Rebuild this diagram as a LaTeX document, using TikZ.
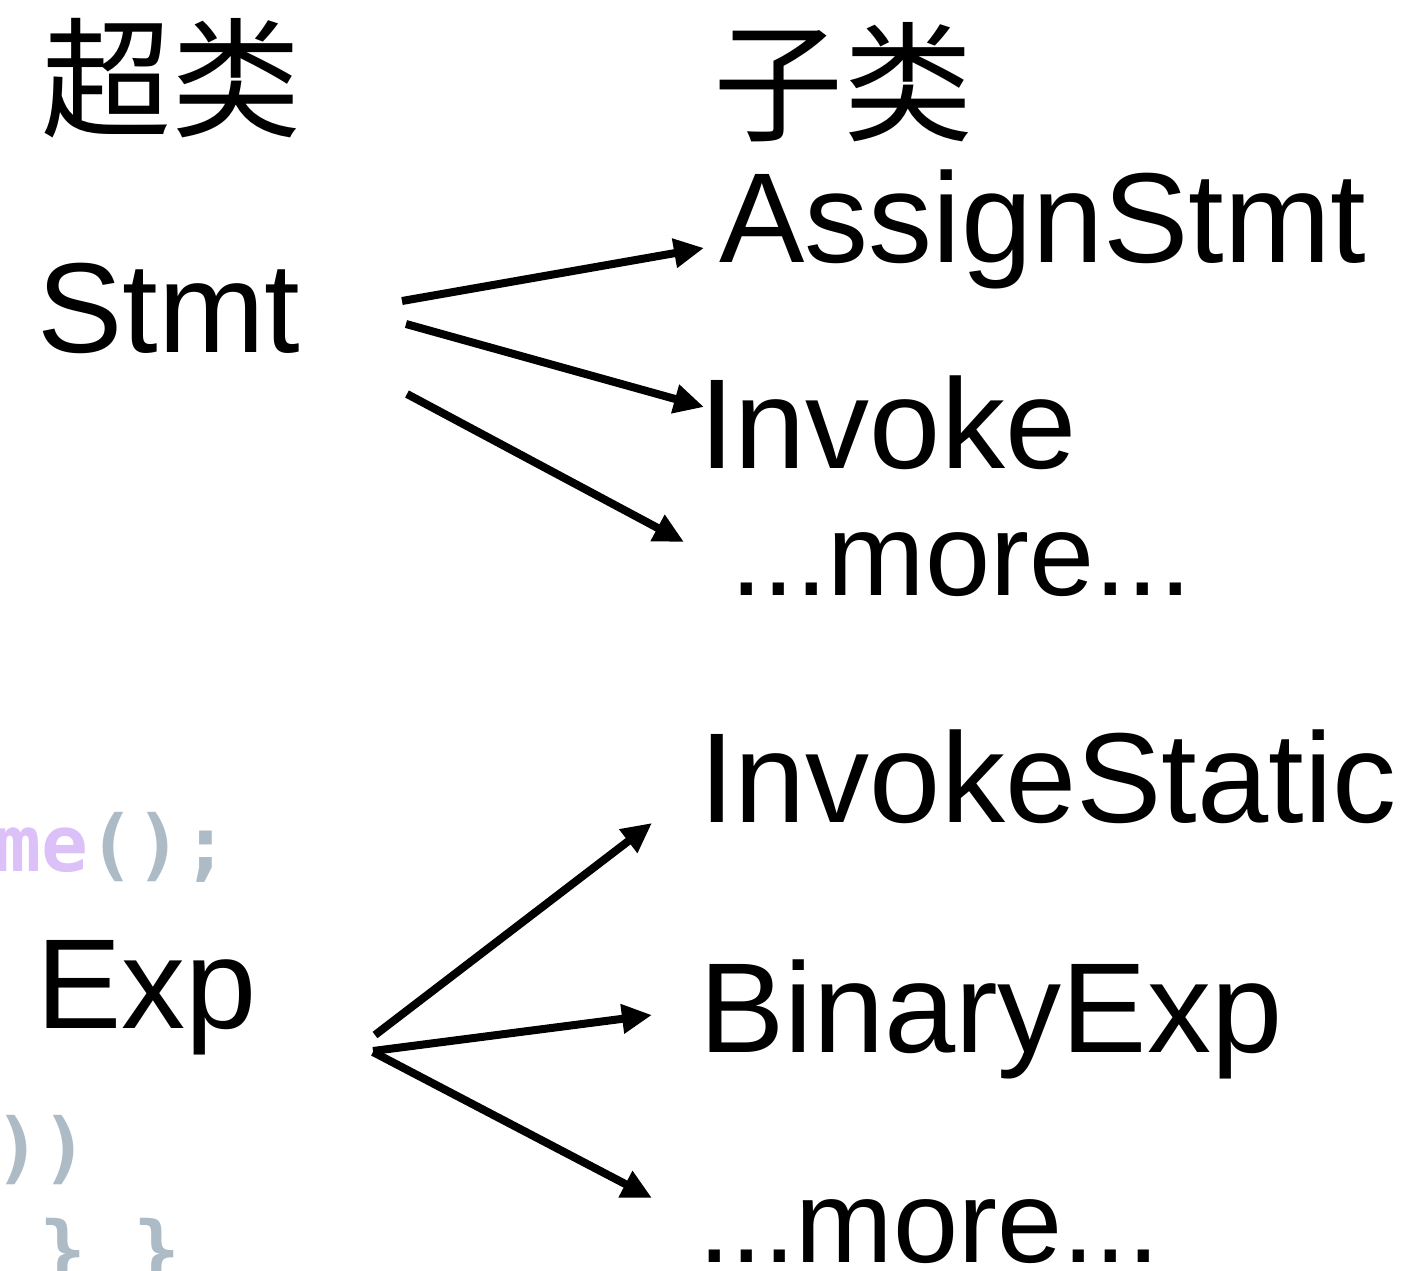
\documentclass[tikz,border=0pt]{standalone}
\usepackage{fontspec}
\setmainfont{Liberation Sans}
\newfontfamily\cjk{Noto Sans CJK SC}
\newfontfamily\codefont{DejaVu Sans Mono}
\usetikzlibrary{arrows.meta}
\definecolor{codepurple}{HTML}{DCC1F9}
\definecolor{codegray}{HTML}{ADBBC7}
\begin{document}
\begin{tikzpicture}[x=1pt,y=-1pt,
  lbl/.style={anchor=base west,inner sep=0pt,font=\fontsize{128}{132}\selectfont},
  morelbl/.style={anchor=base west,inner sep=0pt,font=\fontsize{117}{120}\selectfont},
  head/.style={anchor=center,inner sep=0pt,font=\cjk\fontsize{130}{134}\selectfont},
  code/.style={anchor=base west,inner sep=0pt,font=\codefont\bfseries\fontsize{78}{80}\selectfont},
  arr/.style={line width=8pt,-{Triangle[length=30pt,width=28pt]}}]
\useasboundingbox (0,0) rectangle (1424,1271);
\begin{scope}
  \clip (0,0) rectangle (1424,1271);
  \node[code] (c1) at (-6,871) {\textcolor{codepurple}{me}\textcolor{codegray}{();}};
  \node[code,text=codegray] (c2) at (-6,1174) {))};
  \node[code,text=codegray] (c3) at (-8,1277) {\ \}\ \}};
\end{scope}
% headings
\node[head] (super) at (171,78) {超类};
\node[head] (sub) at (843,82) {子类};
% labels
\node[lbl] (stmt) at (37,352) {Stmt};
\node[lbl] (assign) at (719,262) {AssignStmt};
\node[lbl] (invoke) at (699,468) {Invoke};
\node[morelbl] (more1) at (730,595) {...more...};
\node[lbl] (exp) at (36,1028) {Exp};
\node[lbl] (istatic) at (699,822) {InvokeStatic};
\node[lbl] (binary) at (699,1052) {BinaryExp};
\node[morelbl] (more2) at (698,1262) {...more...};
% connector end points
\coordinate (s1) at (402,301);
\coordinate (s2) at (406,324);
\coordinate (s3) at (407,394);
\coordinate (t1) at (704,248);
\coordinate (t2) at (704,407);
\coordinate (t3) at (684,542);
\coordinate (e1) at (375,1035);
\coordinate (e2) at (373,1051);
\coordinate (e3) at (373,1052);
\coordinate (u1) at (652,823);
\coordinate (u2) at (652,1015);
\coordinate (u3) at (652,1198);
\draw[arr] (s1) -- (t1);
\draw[arr] (s2) -- (t2);
\draw[arr] (s3) -- (t3);
\draw[arr] (e1) -- (u1);
\draw[arr] (e2) -- (u2);
\draw[arr] (e3) -- (u3);
\end{tikzpicture}
\end{document}
